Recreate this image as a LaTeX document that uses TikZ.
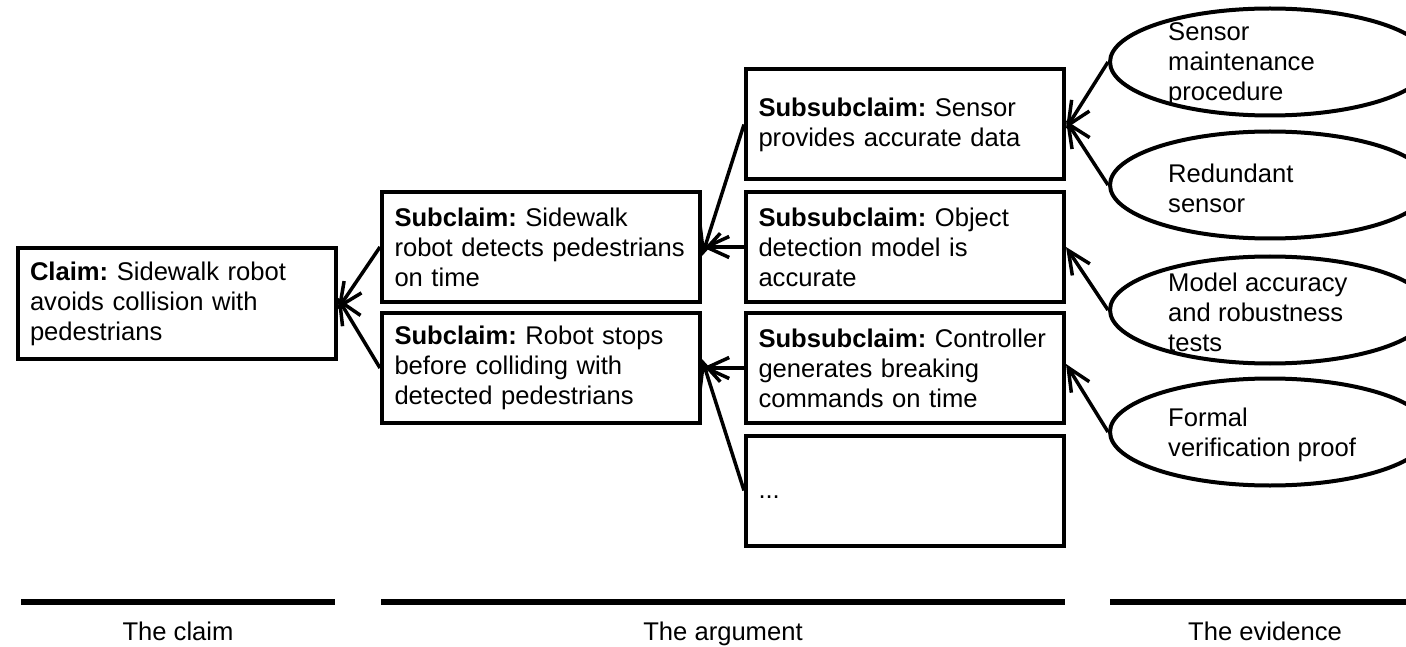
\documentclass[tikz,border=0pt]{standalone}
\usepackage{fontspec}
\setmainfont{Liberation Sans}
\usetikzlibrary{arrows.meta,shapes.geometric}
\hyphenpenalty=10000
\exhyphenpenalty=10000
\frenchspacing
\begin{document}
\begin{tikzpicture}[x=1pt,y=-1pt,
  font=\fontsize{25.6}{30}\selectfont,
  box/.style={draw, line width=4pt, rectangle, minimum width=318pt, minimum height=110pt,
    text width=293pt, inner xsep=12.5pt, inner ysep=0pt, align=left},
  evid/.style={draw, line width=4pt, ellipse, minimum width=320pt, minimum height=107pt, inner sep=0pt},
  evtext/.style={anchor=west, inner sep=0pt, align=left},
  conn/.style={line width=3.5pt, -{Straight Barb[length=23pt,width=21pt,line width=3.5pt]}},
  bar/.style={line width=6pt},
  lbl/.style={inner sep=0pt, anchor=base}
]
\useasboundingbox (0,0) rectangle (1406,647);
\clip (0,0) rectangle (1406,647);
% claim
\node[box] (claim) at (176.5,303.5) {\textbf{Claim:} Sidewalk robot\\avoids collision with\\pedestrians};
% subclaims
\node[box] (sub1) at (541,247) {\textbf{Subclaim:} Sidewalk\\robot detects pedestrians\\on time};
\node[box] (sub2) at (541,368) {\textbf{Subclaim:} Robot stops\\before colliding with\\detected pedestrians};
% subsubclaims
\node[box] (ss1) at (905,124.5) {\textbf{Subsubclaim:} Sensor\\provides accurate data};
\node[box] (ss2) at (905,247) {\textbf{Subsubclaim:} Object\\detection model is\\accurate};
\node[box] (ss3) at (905,368) {\textbf{Subsubclaim:} Controller\\generates breaking\\commands on time};
\node[box] (ss4) at (905,490.5) {\raisebox{-8pt}[0pt][0pt]{...}};
% evidence
\node[evid] (e1) at (1270,62) {};
\node[evid] (e2) at (1270,185) {};
\node[evid] (e3) at (1270,310) {};
\node[evid] (e4) at (1270,432) {};
\node[evtext] (e1t) at (1168,64) {Sensor\\maintenance\\procedure};
\node[evtext] (e2t) at (1168,188) {Redundant\\sensor};
\node[evtext] (e3t) at (1168,312) {Model accuracy\\and robustness\\tests};
\node[evtext] (e4t) at (1168,435) {Formal\\verification proof};
% connectors
\draw[conn] (sub1.west) -- ([yshift=-6pt]claim.east);
\draw[conn] (sub2.west) -- ([yshift=6pt]claim.east);
\draw[conn] (ss1.west) -- ([yshift=-9pt]sub1.east);
\draw[conn] (ss2.west) -- (sub1.east);
\draw[conn] (ss3.west) -- (sub2.east);
\draw[conn] (ss4.west) -- ([yshift=9pt]sub2.east);
\draw[conn] (e1.west) -- ([yshift=-4pt]ss1.east);
\draw[conn] (e2.west) -- ([yshift=4pt]ss1.east);
\draw[conn] (e3.west) -- (ss2.east);
\draw[conn] (e4.west) -- ([yshift=4pt]ss3.east);
% sections
\draw[bar] (21,602) -- (335,602);
\draw[bar] (381,602) -- (1065,602);
\draw[bar] (1110,602) -- (1406,602);
\node[lbl] (lclaim) at (178,640) {The claim};
\node[lbl] (larg) at (723,640) {The argument};
\node[lbl] (levid) at (1265,640) {The evidence};
\end{tikzpicture}
\end{document}
